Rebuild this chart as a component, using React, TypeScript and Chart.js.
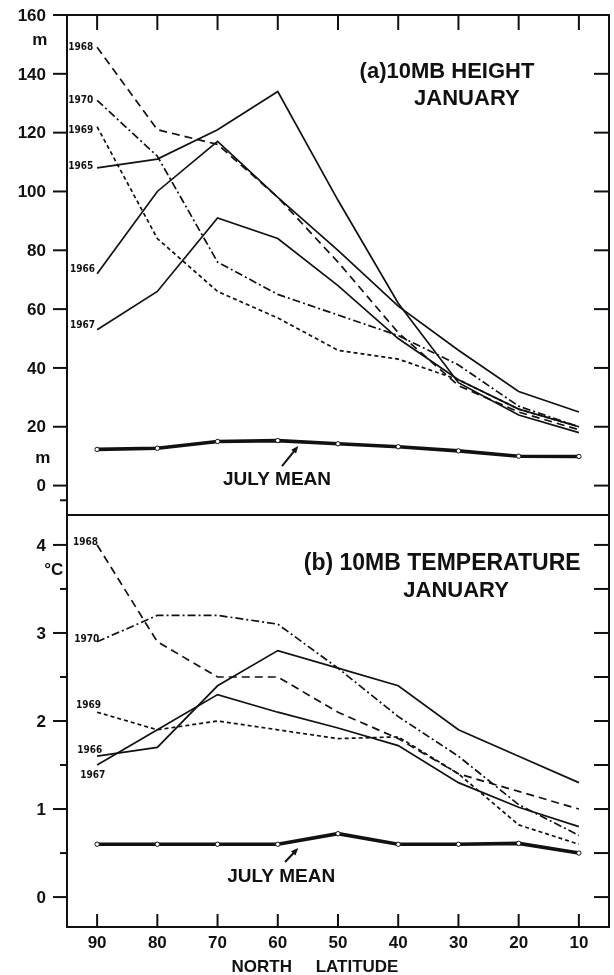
import React, { useEffect, useRef } from 'react';
import { Chart, registerables } from 'chart.js';

Chart.register(...registerables);

// ---------- data ----------
const latitudes = [90, 80, 70, 60, 50, 40, 30, 20, 10];
const latTicks = [90, 80, 70, 60, 50, 40, 30, 20, 10];
const heightTicks = [0, 20, 40, 60, 80, 100, 120, 140, 160];
const tempTicks = [0, 1, 2, 3, 4];
const tempMinorTicks = [0.5, 1.5, 2.5, 3.5];

// (a) 10 mb height, January (m)
const height1965 = [108, 111, 121, 134, 97, 62, 35, 24, 18];
const height1966 = [72, 100, 117, 98, 80, 61, 46, 32, 25];
const height1967 = [53, 66, 91, 84, 68, 50, 36, 26, 20];
const height1968 = [149, 121, 116, 98, 76, 52, 34, 25, 19];
const height1969 = [122, 84, 66, 57, 46, 43, 36, 26, 20];
const height1970 = [131, 112, 76, 65, 58, 51, 41, 27, 20];
const heightJuly = [12.3, 12.7, 15, 15.3, 14.2, 13.2, 11.8, 10, 9.9];

// (b) 10 mb temperature, January (deg C)
const temp1966 = [1.6, 1.7, 2.4, 2.8, 2.6, 2.4, 1.9, 1.6, 1.3];
const temp1967 = [1.5, 1.9, 2.3, 2.1, 1.92, 1.72, 1.3, 1.02, 0.8];
const temp1968 = [4.0, 2.9, 2.5, 2.5, 2.1, 1.8, 1.4, 1.2, 1.0];
const temp1969 = [2.1, 1.9, 2.0, 1.9, 1.8, 1.82, 1.4, 0.82, 0.6];
const temp1970 = [2.9, 3.2, 3.2, 3.1, 2.6, 2.05, 1.6, 1.05, 0.7];
const tempJuly = [0.6, 0.6, 0.6, 0.6, 0.72, 0.6, 0.6, 0.61, 0.5];

const INK = '#111';
const FONT = '"Liberation Sans", Arial, sans-serif';
const NARROW = '"Liberation Sans Narrow", "DejaVu Sans Condensed", "Liberation Sans", sans-serif';

const SOLID: number[] = [];
const LONG_DASH = [8, 5];
const SHORT_DASH = [4, 3];
const DASH_DOT = [8, 3, 2, 3];

type Note = { text: string; lat: number; val: number; align: CanvasTextAlign; size: number; narrow?: boolean };
type Arrow = { from: [number, number]; to: [number, number] };

function series(label: string, values: number[], dash: number[], july = false) {
  return {
    label,
    data: latitudes.map((x, i) => ({ x, y: values[i] })),
    borderColor: INK,
    borderWidth: july ? 3.6 : 1.7,
    borderDash: dash,
    pointRadius: july ? 2.2 : 0,
    pointBackgroundColor: '#fff',
    pointBorderColor: INK,
    pointBorderWidth: 1,
    tension: 0,
    fill: false,
  };
}

type PanelSpec = {
  leftMajor: number[];
  leftMinor: number[];
  rightTicks: number[];
  topLatTicks: boolean;
  bottomLatTicks: boolean;
  labelLeft: boolean;
  notes: Note[];
  arrows: Arrow[];
  axisTitle?: string;
};

function makePlugin(spec: PanelSpec) {
  return {
    id: 'frameAndNotes',
    afterDraw(chart: any) {
      const { ctx, chartArea: a, scales } = chart;
      const xs = scales.x;
      const ys = scales.y;
      ctx.save();
      ctx.strokeStyle = INK;
      ctx.fillStyle = INK;
      ctx.lineWidth = 2;
      ctx.setLineDash([]);
      ctx.strokeRect(a.left, a.top, a.right - a.left, a.bottom - a.top);

      // left ticks (outward) + labels
      ctx.font = `bold 17px ${FONT}`;
      ctx.textAlign = 'right';
      ctx.textBaseline = 'middle';
      spec.leftMajor.forEach((v) => {
        const py = ys.getPixelForValue(v);
        ctx.beginPath();
        ctx.moveTo(a.left - 14, py);
        ctx.lineTo(a.left, py);
        ctx.stroke();
        ctx.fillText(String(v), a.left - 21, py + 1);
      });
      spec.leftMinor.forEach((v) => {
        const py = ys.getPixelForValue(v);
        ctx.beginPath();
        ctx.moveTo(a.left - 7, py);
        ctx.lineTo(a.left, py);
        ctx.stroke();
      });
      // right ticks (inward)
      spec.rightTicks.forEach((v) => {
        const py = ys.getPixelForValue(v);
        ctx.beginPath();
        ctx.moveTo(a.right - 15, py);
        ctx.lineTo(a.right, py);
        ctx.stroke();
      });
      // latitude ticks
      latTicks.forEach((lat) => {
        const px = xs.getPixelForValue(lat);
        if (spec.topLatTicks) {
          ctx.beginPath();
          ctx.moveTo(px, a.top);
          ctx.lineTo(px, a.top + 15);
          ctx.stroke();
        }
        if (spec.bottomLatTicks) {
          ctx.beginPath();
          ctx.moveTo(px, a.bottom);
          ctx.lineTo(px, a.bottom - 13);
          ctx.stroke();
        }
      });
      if (spec.labelLeft) {
        ctx.textAlign = 'center';
        ctx.textBaseline = 'top';
        latTicks.forEach((lat) => {
          const px = xs.getPixelForValue(lat);
          ctx.fillText(String(lat), px, a.bottom + 8);
        });
      }
      if (spec.axisTitle) {
        ctx.textAlign = 'center';
        ctx.textBaseline = 'alphabetic';
        ctx.fillText(spec.axisTitle, (a.left + a.right) / 2 - 23, a.bottom + 45);
      }

      // notes
      ctx.textBaseline = 'alphabetic';
      spec.notes.forEach((n) => {
        ctx.font = `bold ${n.size}px ${n.narrow ? NARROW : FONT}`;
        ctx.textAlign = n.align;
        ctx.fillText(n.text, xs.getPixelForValue(n.lat), ys.getPixelForValue(n.val));
      });

      // arrows
      spec.arrows.forEach((ar) => {
        const x1 = xs.getPixelForValue(ar.from[0]);
        const y1 = ys.getPixelForValue(ar.from[1]);
        const x2 = xs.getPixelForValue(ar.to[0]);
        const y2 = ys.getPixelForValue(ar.to[1]);
        const ang = Math.atan2(y2 - y1, x2 - x1);
        ctx.lineWidth = 2;
        ctx.beginPath();
        ctx.moveTo(x1, y1);
        ctx.lineTo(x2 - 4 * Math.cos(ang), y2 - 4 * Math.sin(ang));
        ctx.stroke();
        ctx.beginPath();
        ctx.moveTo(x2, y2);
        ctx.lineTo(x2 - 8 * Math.cos(ang - 0.4), y2 - 8 * Math.sin(ang - 0.4));
        ctx.lineTo(x2 - 8 * Math.cos(ang + 0.4), y2 - 8 * Math.sin(ang + 0.4));
        ctx.closePath();
        ctx.fill();
      });
      ctx.restore();
    },
  };
}

const topNotes: Note[] = [
  { text: '(a)10MB HEIGHT', lat: 31.9, val: 138.6, align: 'center', size: 22 },
  { text: 'JANUARY', lat: 28.6, val: 129.4, align: 'center', size: 22 },
  { text: 'JULY MEAN', lat: 69.1, val: 0.2, align: 'left', size: 19 },
  { text: 'm', lat: 99.5, val: 149.8, align: 'center', size: 17 },
  { text: 'm', lat: 99.0, val: 7.7, align: 'center', size: 17 },
  { text: '1968', lat: 94.8, val: 148.1, align: 'left', size: 10, narrow: true },
  { text: '1970', lat: 94.8, val: 130.1, align: 'left', size: 10, narrow: true },
  { text: '1969', lat: 94.8, val: 119.9, align: 'left', size: 10, narrow: true },
  { text: '1965', lat: 94.8, val: 107.6, align: 'left', size: 10, narrow: true },
  { text: '1966', lat: 94.5, val: 72.6, align: 'left', size: 10, narrow: true },
  { text: '1967', lat: 94.5, val: 53.6, align: 'left', size: 10, narrow: true },
];
const topArrows: Arrow[] = [{ from: [59.3, 6.6], to: [56.6, 13.5] }];

const bottomNotes: Note[] = [
  { text: '(b) 10MB TEMPERATURE', lat: 32.7, val: 3.715, align: 'center', size: 23 },
  { text: 'JANUARY', lat: 30.4, val: 3.41, align: 'center', size: 22 },
  { text: 'JULY MEAN', lat: 68.4, val: 0.171, align: 'left', size: 19 },
  { text: '°C', lat: 97.2, val: 3.658, align: 'center', size: 17 },
  { text: '1968', lat: 94.0, val: 4.0, align: 'left', size: 10, narrow: true },
  { text: '1970', lat: 93.8, val: 2.897, align: 'left', size: 10, narrow: true },
  { text: '1969', lat: 93.5, val: 2.148, align: 'left', size: 10, narrow: true },
  { text: '1966', lat: 93.3, val: 1.636, align: 'left', size: 10, narrow: true },
  { text: '1967', lat: 92.8, val: 1.352, align: 'left', size: 10, narrow: true },
];
const bottomArrows: Arrow[] = [{ from: [58.8, 0.398], to: [56.6, 0.557] }];

function baseOptions(yMin: number, yMax: number, padding: any) {
  return {
    animation: false as const,
    responsive: false,
    maintainAspectRatio: false,
    layout: { padding },
    plugins: { legend: { display: false }, tooltip: { enabled: false } },
    scales: {
      x: { type: 'linear' as const, min: 5, max: 95, reverse: true, display: false },
      y: { type: 'linear' as const, min: yMin, max: yMax, display: false },
    },
  };
}

export default function App() {
  const topRef = useRef<HTMLCanvasElement>(null);
  const botRef = useRef<HTMLCanvasElement>(null);

  useEffect(() => {
    const top = new Chart(topRef.current!, {
      type: 'line',
      data: {
        datasets: [
          series('1965', height1965, SOLID),
          series('1966', height1966, SOLID),
          series('1967', height1967, SOLID),
          series('1968', height1968, LONG_DASH),
          series('1969', height1969, SHORT_DASH),
          series('1970', height1970, DASH_DOT),
          series('July mean', heightJuly, SOLID, true),
        ],
      },
      options: baseOptions(-10, 160, { left: 67, right: 5, top: 15, bottom: 15 }) as any,
      plugins: [
        makePlugin({
          leftMajor: heightTicks,
          leftMinor: [-5],
          rightTicks: heightTicks.filter((v) => v < 160),
          topLatTicks: true,
          bottomLatTicks: false,
          labelLeft: false,
          notes: topNotes,
          arrows: topArrows,
        }),
      ],
    });
    const bot = new Chart(botRef.current!, {
      type: 'line',
      data: {
        datasets: [
          series('1966', temp1966, SOLID),
          series('1967', temp1967, SOLID),
          series('1968', temp1968, LONG_DASH),
          series('1969', temp1969, SHORT_DASH),
          series('1970', temp1970, DASH_DOT),
          series('July mean', tempJuly, SOLID, true),
        ],
      },
      options: baseOptions(-0.34, 4.34, { left: 67, right: 5, top: 10, bottom: 48 }) as any,
      plugins: [
        makePlugin({
          leftMajor: tempTicks,
          leftMinor: tempMinorTicks,
          rightTicks: [0, 0.5, 1, 1.5, 2, 2.5, 3, 3.5, 4],
          topLatTicks: false,
          bottomLatTicks: true,
          labelLeft: true,
          notes: bottomNotes,
          arrows: bottomArrows,
          axisTitle: 'NORTH     LATITUDE',
        }),
      ],
    });
    return () => {
      top.destroy();
      bot.destroy();
    };
  }, []);

  return (
    <div style={{ position: 'absolute', left: 0, top: 0, width: 614, height: 975, background: '#fff' }}>
      <canvas ref={topRef} width={614} height={530} style={{ position: 'absolute', left: 0, top: 0, width: 614, height: 530 }} />
      <canvas ref={botRef} width={614} height={470} style={{ position: 'absolute', left: 0, top: 505, width: 614, height: 470 }} />
    </div>
  );
}
